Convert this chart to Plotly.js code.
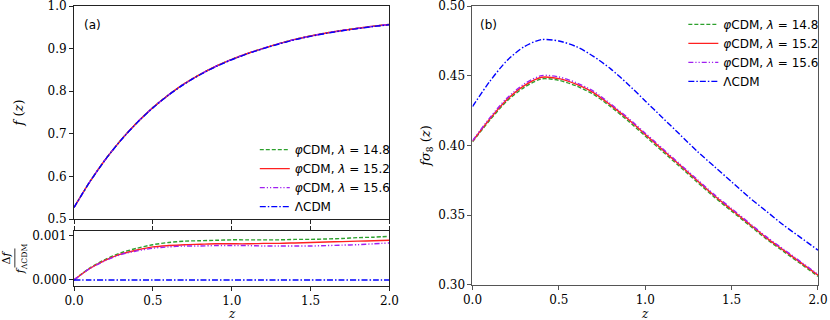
<!DOCTYPE html>
<html>
<head>
<meta charset="utf-8">
<script src="https://cdn.plot.ly/plotly-3.0.1.min.js"></script>
<style>
  body { margin: 0; background: #fff; }
  #chart { width: 830px; height: 320px; }
</style>
</head>
<body>
<div id="chart"></div>
<script>
// redshift grid
const z = [0, 0.1, 0.2, 0.3, 0.4, 0.5, 0.6, 0.7, 0.8, 0.9, 1.0,
           1.1, 1.2, 1.3, 1.4, 1.5, 1.6, 1.7, 1.8, 1.9, 2.0];

// (a) growth rate f(z)
const fLCDM   = [0.5270, 0.5870, 0.6400, 0.6860, 0.7260, 0.7610, 0.7910, 0.8170, 0.8390, 0.8580, 0.8740,
                 0.8880, 0.9000, 0.9110, 0.9210, 0.9290, 0.9360, 0.9420, 0.9470, 0.9520, 0.9560];
const fPhi148 = [0.5270, 0.5872, 0.6403, 0.6864, 0.7265, 0.7616, 0.7917, 0.8177, 0.8397, 0.8588, 0.8748,
                 0.8888, 0.9008, 0.9118, 0.9218, 0.9299, 0.9369, 0.9429, 0.9479, 0.9529, 0.9569];
const fPhi152 = [0.5270, 0.5872, 0.6403, 0.6864, 0.7265, 0.7616, 0.7916, 0.8177, 0.8397, 0.8587, 0.8747,
                 0.8887, 0.9007, 0.9118, 0.9218, 0.9298, 0.9368, 0.9428, 0.9478, 0.9528, 0.9569];
const fPhi156 = [0.5270, 0.5872, 0.6403, 0.6864, 0.7265, 0.7615, 0.7916, 0.8176, 0.8396, 0.8587, 0.8747,
                 0.8887, 0.9007, 0.9117, 0.9217, 0.9297, 0.9367, 0.9427, 0.9478, 0.9528, 0.9568];

// (a) lower: relative difference Δf / f_ΛCDM
const dPhi148 = [0, 0.00027, 0.00047, 0.00062, 0.00072, 0.00080, 0.00085, 0.00088, 0.00089, 0.00090, 0.00091,
                 0.00091, 0.00091, 0.00091, 0.00092, 0.00092, 0.00093, 0.00094, 0.00096, 0.00097, 0.00099];
const dPhi152 = [0, 0.00026, 0.00045, 0.00059, 0.00068, 0.00075, 0.00078, 0.00080, 0.00081, 0.00082, 0.00082,
                 0.00082, 0.00083, 0.00083, 0.00084, 0.00085, 0.00086, 0.00087, 0.00088, 0.00089, 0.00090];
const dPhi156 = [0, 0.00026, 0.00044, 0.00058, 0.00066, 0.00072, 0.00075, 0.00077, 0.00077, 0.00078, 0.00078,
                 0.00078, 0.00077, 0.00077, 0.00077, 0.00077, 0.00078, 0.00079, 0.00080, 0.00082, 0.00084];
const dLCDM   = [0, 0, 0, 0, 0, 0, 0, 0, 0, 0, 0, 0, 0, 0, 0, 0, 0, 0, 0, 0, 0];

// (b) f sigma_8(z)
const fs8LCDM   = [0.428, 0.446, 0.461, 0.471, 0.476, 0.475, 0.471, 0.464, 0.455, 0.444, 0.432,
                   0.420, 0.408, 0.396, 0.385, 0.374, 0.363, 0.353, 0.343, 0.334, 0.325];
const fs8Phi148 = [0.4026, 0.4182, 0.4320, 0.4418, 0.4478, 0.4468, 0.4428, 0.4368, 0.4278, 0.4178, 0.4068,
                   0.3958, 0.3849, 0.3739, 0.3630, 0.3530, 0.3431, 0.3331, 0.3241, 0.3152, 0.3062];
const fs8Phi152 = [0.4030, 0.4190, 0.4330, 0.4430, 0.4490, 0.4480, 0.4440, 0.4380, 0.4290, 0.4190, 0.4080,
                   0.3970, 0.3860, 0.3750, 0.3640, 0.3540, 0.3440, 0.3340, 0.3250, 0.3160, 0.3070];
const fs8Phi156 = [0.4034, 0.4199, 0.4341, 0.4442, 0.4502, 0.4492, 0.4451, 0.4390, 0.4299, 0.4199, 0.4089,
                   0.3979, 0.3868, 0.3758, 0.3648, 0.3548, 0.3447, 0.3347, 0.3257, 0.3167, 0.3076];

const names = ["<i>φ</i>CDM, <i>λ</i> = 14.8", "<i>φ</i>CDM, <i>λ</i> = 15.2",
               "<i>φ</i>CDM, <i>λ</i> = 15.6", "ΛCDM"];
const styles = [
  { color: "#2ca02c", dash: "4px,2px", width: 1.4 },
  { color: "#ff2020", dash: "solid", width: 1.4 },
  { color: "#a020f0", dash: "5px,2px,1.2px,2px,1.2px,2px", width: 1.4 },
  { color: "#0000ff", dash: "6px,2px,1.5px,2px", width: 1.4 },
];

function series(ys, xa, ya, legend, show) {
  return ys.map((y, i) => ({
    x: z, y: y, xaxis: xa, yaxis: ya,
    type: "scatter", mode: "lines",
    name: names[i], legend: legend, showlegend: show,
    line: Object.assign({ shape: "spline", smoothing: 0.8 }, styles[i]),
  }));
}

const traces = [
  ...series([fPhi148, fPhi152, fPhi156, fLCDM], "x", "y", "legend", true),
  ...series([dPhi148, dPhi152, dPhi156, dLCDM], "x2", "y2", "legend", false),
  ...series([fs8Phi148, fs8Phi152, fs8Phi156, fs8LCDM], "x3", "y3", "legend2", true),
];

const tickFont = { family: "DejaVu Serif", size: 12, color: "#000" };
const axBase = {
  showgrid: false, zeroline: false, showline: true, linewidth: 1,
  ticks: "outside", ticklen: 4, tickwidth: 1, tickfont: tickFont,
  ticklabeloverflow: "allow",
};
const blk = { linecolor: "#222", tickcolor: "#222" };
const gry = { linecolor: "#555", tickcolor: "#555" };
const legFont = { family: "DejaVu Sans", size: 12, color: "#000" };
const zTitle = (xref) => ({
  text: "<i>z</i>", xref: xref, yref: "paper", x: 0.5, y: -0.1,
  xanchor: "center", yanchor: "middle", height: 10, showarrow: false,
  font: { family: "DejaVu Serif", size: 12 },
});

const layout = {
  width: 830, height: 320,
  margin: { l: 73.5, r: 10, t: 6, b: 34 },
  paper_bgcolor: "#fff", plot_bgcolor: "#fff",
  font: { family: "DejaVu Serif", size: 12, color: "#000" },
  xaxis: { ...axBase, ...blk, domain: [0, 0.424], range: [0, 2], dtick: 0.5,
           showticklabels: false, mirror: true, anchor: "y" },
  yaxis: { ...axBase, ...blk, domain: [0.2393, 1], range: [0.5, 1.0002], tick0: 0.5, dtick: 0.1,
           tickformat: ".1f", mirror: true, anchor: "x",
           title: { text: "<i>f</i> (<i>z</i>)", standoff: 20, font: { size: 13 } } },
  xaxis2: { ...axBase, ...blk, domain: [0, 0.424], range: [0, 2], dtick: 0.5,
            tickformat: ".1f", mirror: "ticks", anchor: "y2" },
  yaxis2: { ...axBase, ...blk, domain: [0, 0.1964], range: [-0.000136, 0.00111], dtick: 0.001,
            tickformat: ".3f", mirror: true, anchor: "x2",
            title: { text: "Δ<i>f</i><br><i>f</i><sub>ΛCDM</sub>", standoff: 8, font: { size: 11 } } },
  xaxis3: { ...axBase, ...gry, domain: [0.5356, 1], range: [0, 2], dtick: 0.5,
            tickformat: ".1f", mirror: true, anchor: "y3" },
  yaxis3: { ...axBase, ...gry, domain: [0.0036, 1], range: [0.30, 0.5001], tick0: 0.3, dtick: 0.05,
            tickformat: ".2f", mirror: true, anchor: "x3",
            title: { text: "<i>f</i><i>σ</i><sub>8</sub> (<i>z</i>)", standoff: 4, font: { size: 13 } } },
  legend: { x: 0.243, y: 0.539, xanchor: "left", yanchor: "top", bgcolor: "rgba(0,0,0,0)",
            font: legFont, tracegroupgap: 0 },
  legend2: { x: 0.819, y: 0.986, xanchor: "left", yanchor: "top", bgcolor: "rgba(0,0,0,0)",
             font: legFont, tracegroupgap: 0 },
  annotations: [
    { text: "(a)", x: 0.12, y: 0.955, xref: "x", yref: "y", showarrow: false,
      font: { family: "DejaVu Sans", size: 12 } },
    { text: "(b)", x: 0.09, y: 0.4864, xref: "x3", yref: "y3", showarrow: false,
      font: { family: "DejaVu Sans", size: 12 } },
    zTitle("x2 domain"),
    zTitle("x3 domain"),
  ],
  shapes: [
    // fraction bar of the lower-left y title
    { type: "line", xref: "paper", yref: "paper", x0: -0.0795, x1: -0.0795, y0: 0.066, y1: 0.134,
      line: { color: "#000", width: 0.8 } },
  ],
};

Plotly.newPlot("chart", traces, layout, { displayModeBar: false, staticPlot: true });
</script>
</body>
</html>
